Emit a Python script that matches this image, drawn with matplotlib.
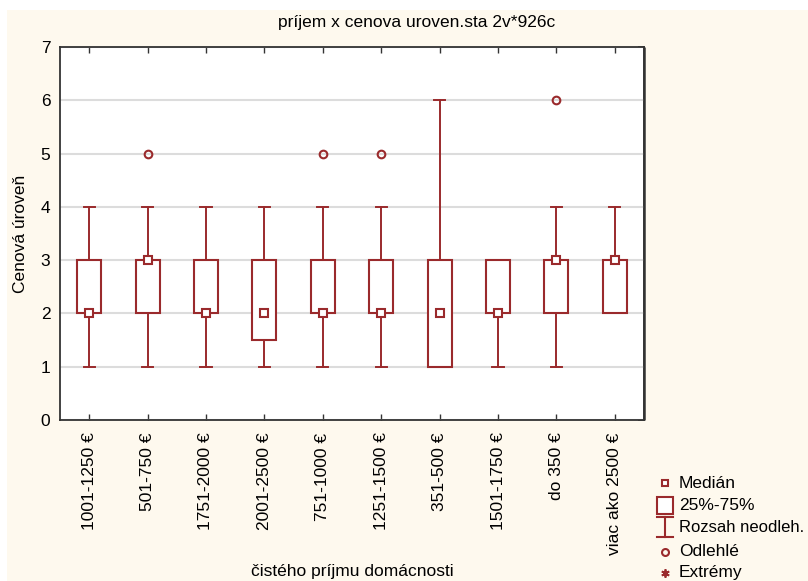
import matplotlib.pyplot as plt
from matplotlib.patches import Rectangle
from matplotlib.lines import Line2D

plt.rcParams['font.family'] = ['Liberation Sans', 'DejaVu Sans']

# --- data ---
categories = ['1001-1250 €', '501-750 €', '1751-2000 €', '2001-2500 €', '751-1000 €',
              '1251-1500 €', '351-500 €', '1501-1750 €', 'do 350 €', 'viac ako 2500 €']
medians = [2, 3, 2, 2, 2, 2, 2, 2, 3, 3]
q1 = [2, 2, 2, 1.5, 2, 2, 1, 2, 2, 2]
q3 = [3, 3, 3, 3, 3, 3, 3, 3, 3, 3]
whisker_low = [1, 1, 1, 1, 1, 1, 1, 1, 1, 2]
whisker_high = [4, 4, 4, 4, 4, 4, 6, 3, 4, 4]
outliers = [[], [5], [], [], [5], [5], [], [], [6], []]

red = '#9A2A2C'
cream = '#FEF9EE'
fs = 12.5

fig = plt.figure(figsize=(8.08, 5.81), dpi=100, facecolor='white')
fig.patches.append(Rectangle((7 / 808, 0), 1, 1 - 10 / 581, transform=fig.transFigure,
                             facecolor=cream, edgecolor='none', zorder=-10))
ax = fig.add_axes([60 / 808, 1 - 420 / 581, 584 / 808, 373 / 581])
ax.set_facecolor('white')

stats = []
for i in range(len(categories)):
    stats.append(dict(med=medians[i], q1=q1[i], q3=q3[i], whislo=whisker_low[i],
                      whishi=whisker_high[i], fliers=outliers[i]))

pos = list(range(len(categories)))
ax.bxp(stats, positions=pos, widths=0.41, capwidths=0.19, patch_artist=True,
       boxprops=dict(facecolor='white', edgecolor=red, linewidth=1.5),
       whiskerprops=dict(color=red, linewidth=1.4),
       capprops=dict(color=red, linewidth=1.4),
       flierprops=dict(marker='o', markerfacecolor='none', markeredgecolor=red,
                       markersize=5.5, markeredgewidth=1.5),
       medianprops=dict(visible=False), zorder=3)
ax.plot(pos, medians, ls='none', marker='s', markersize=5.5, markerfacecolor='white',
        markeredgecolor=red, markeredgewidth=1.5, zorder=4)

ax.set_xlim(-0.5, len(categories) - 0.5)
ax.set_ylim(0, 7)
ax.set_yticks(range(0, 8))
ax.set_xticks(pos)
ax.set_xticklabels(categories, rotation=90, fontsize=fs)
ax.grid(axis='y', color='#DCDCDC', linewidth=1.5, zorder=0)
ax.set_axisbelow(True)

ax.tick_params(axis='x', direction='in', length=4, width=1, color='#333333',
               top=True, pad=9, labelsize=fs)
ax.tick_params(axis='y', direction='in', length=0, left=True, right=False, pad=7,
               labelsize=fs)
ax_r = ax.secondary_yaxis('right')
ax_r.set_yticks(range(0, 8))
ax_r.tick_params(direction='in', length=4, width=1.2, color='#333333', labelright=False)
ax_r.spines['right'].set_linewidth(1.8)
ax_r.spines['right'].set_color('#333333')
ax_r.spines['right'].set_capstyle('butt')
for s in ax.spines.values():
    s.set_color('#333333')
    s.set_linewidth(1.3)

ax.set_ylabel('Cenová úroveň', fontsize=fs)
ax.yaxis.set_label_coords(-0.055, 0.5)
ax.set_xlabel('čistého príjmu domácnosti', fontsize=fs)
ax.xaxis.set_label_coords(0.5, -0.385)

fig.text(417 / 808, 1 - 22 / 581, 'príjem x cenova uroven.sta 2v*926c',
         ha='center', va='center', fontsize=fs)

# --- legend drawn beside the plot ---
def fy(py):
    return 1 - py / 581

tx = 679 / 808
mx = 665 / 808
fig.add_artist(Line2D([mx], [fy(483)], marker='s', ms=5, mfc='white', mec=red, mew=1.5,
                      ls='none', transform=fig.transFigure))
fig.text(tx, fy(483), 'Medián', va='center', fontsize=fs)
fig.add_artist(Rectangle((657 / 808, fy(514)), 16 / 808, 17 / 581, transform=fig.transFigure,
                         facecolor='white', edgecolor=red, linewidth=1.5))
fig.text(tx, fy(506), '25%-75%', va='center', fontsize=fs)
fig.add_artist(Line2D([mx, mx], [fy(517), fy(537)], color=red, lw=1.5,
                      transform=fig.transFigure))
for py in (517, 537):
    fig.add_artist(Line2D([657 / 808, 673 / 808], [fy(py), fy(py)], color=red, lw=1.5,
                          transform=fig.transFigure))
fig.text(tx, fy(528), 'Rozsah neodleh.', va='center', fontsize=12)
fig.add_artist(Line2D([mx], [fy(552)], marker='o', ms=5, mfc='none', mec=red, mew=1.5,
                      ls='none', transform=fig.transFigure))
fig.text(tx, fy(551), 'Odlehlé', va='center', fontsize=fs)
fig.add_artist(Line2D([mx], [fy(573)], marker=(6, 2, 0), ms=6, mec=red, mew=1.3,
                      ls='none', transform=fig.transFigure))
fig.text(tx, fy(572), 'Extrémy', va='center', fontsize=fs)

fig.savefig('out.png', dpi=100, facecolor=fig.get_facecolor())
